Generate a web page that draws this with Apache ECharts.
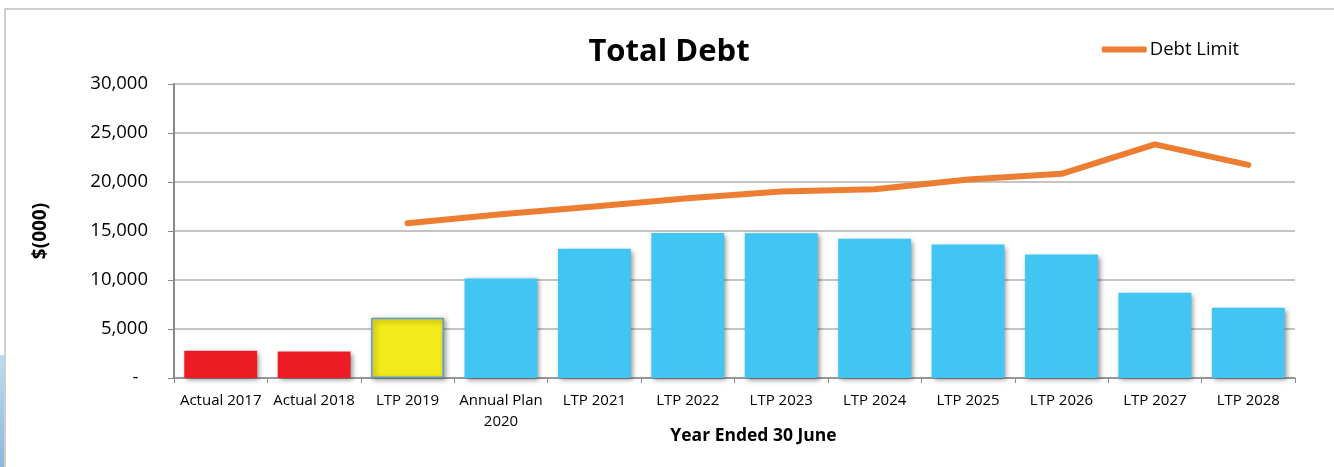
<!DOCTYPE html>
<html>
<head>
<meta charset="utf-8">
<script src="https://cdn.jsdelivr.net/npm/echarts@6/dist/echarts.min.js"></script>
<style>
html,body{margin:0;padding:0;background:#fff;}
#c{width:1334px;height:467px;}
</style>
</head>
<body>
<div id="c"></div>
<script>
const categories = ['Actual 2017','Actual 2018','LTP 2019','Annual Plan\n2020','LTP 2021','LTP 2022','LTP 2023','LTP 2024','LTP 2025','LTP 2026','LTP 2027','LTP 2028'];
const totalDebt = [2780, 2700, 6160, 10160, 13200, 14800, 14770, 14200, 13620, 12600, 8700, 7180];
const barColors = ['#ED1C24','#ED1C24','#F2EA1A','#41C6F3','#41C6F3','#41C6F3','#41C6F3','#41C6F3','#41C6F3','#41C6F3','#41C6F3','#41C6F3'];
const debtLimit = [null, null, 15800, 16700, 17500, 18350, 19030, 19270, 20250, 20830, 23840, 21750];
const yTicks = [0, 5000, 10000, 15000, 20000, 25000, 30000];

const FONT = 'Open Sans';
const chart = echarts.init(document.getElementById('c'), null, {renderer:'canvas'});
chart.setOption({
  animation:false,
  backgroundColor:'#fff',
  graphic:[
    {type:'rect', shape:{x:5,y:9,width:1340,height:470}, style:{fill:'none', stroke:'#BFBFBF', lineWidth:1.5}, z:-1},
    {type:'rect', shape:{x:0,y:355,width:4,height:112}, style:{fill:new echarts.graphic.LinearGradient(0,0,0,1,[{offset:0,color:'#B8DDF0'},{offset:1,color:'#8DB8DA'}])}, z:-1}
  ],
  title:{
    text:'Total Debt', left:664, top:32, textAlign:'center',
    textStyle:{fontFamily:FONT, fontWeight:'bold', fontSize:31, color:'#000'}
  },
  legend:{
    data:['Debt Limit'], right:90, top:35,
    itemWidth:45, itemHeight:6, itemGap:2,
    textStyle:{fontFamily:FONT, fontSize:18.5, color:'#000', padding:[0,0,0,-2]},
    icon:'roundRect'
  },
  grid:{left:174, right:39, top:84, bottom:89},
  xAxis:{
    type:'category', data:categories,
    axisLine:{lineStyle:{color:'#898989', width:1.5}},
    axisTick:{show:true, length:5, lineStyle:{color:'#898989'}},
    axisLabel:{interval:0, fontFamily:FONT, fontSize:15, color:'#000', margin:12, lineHeight:21},
    name:'Year Ended 30 June', nameLocation:'middle', nameGap:49, nameMoveOverlap:false,
    nameTextStyle:{fontFamily:FONT, fontWeight:'bold', fontSize:17.5, color:'#000', padding:[0,0,0,38]}
  },
  yAxis:{
    type:'value', min:0, max:30000, interval:5000,
    axisLine:{show:true, lineStyle:{color:'#898989', width:2}},
    axisTick:{show:true, length:6, lineStyle:{color:'#898989'}},
    splitLine:{lineStyle:{color:'#B0B0B0', width:1.5}},
    axisLabel:{
      fontFamily:FONT, fontSize:18.5, color:'#000', margin:26,
      formatter:function(v){ return v===0 ? '-  ' : v.toLocaleString('en-US'); }
    },
    name:'$(000)', nameLocation:'middle', nameGap:124, nameRotate:90, nameMoveOverlap:false,
    nameTextStyle:{fontFamily:FONT, fontWeight:'bold', fontSize:19, color:'#000'}
  },
  series:[
    {
      name:'Total Debt', type:'bar', barCategoryGap:'22%',
      data: totalDebt.map(function(v,i){
        return {value:v, itemStyle:{color:barColors[i], borderColor: i===2 ? '#5B9BD5' : barColors[i], borderWidth: i===2 ? 1.5 : 0}};
      }),
      itemStyle:{shadowBlur:5, shadowOffsetX:2, shadowOffsetY:2, shadowColor:'rgba(0,0,0,0.45)'},
      z:2
    },
    {
      name:'Debt Limit', type:'line', data:debtLimit,
      symbol:'none', connectNulls:false,
      lineStyle:{color:'#ED7D31', width:6, cap:'round', join:'round'},
      itemStyle:{color:'#ED7D31'},
      z:3
    }
  ]
});
</script>
</body>
</html>
